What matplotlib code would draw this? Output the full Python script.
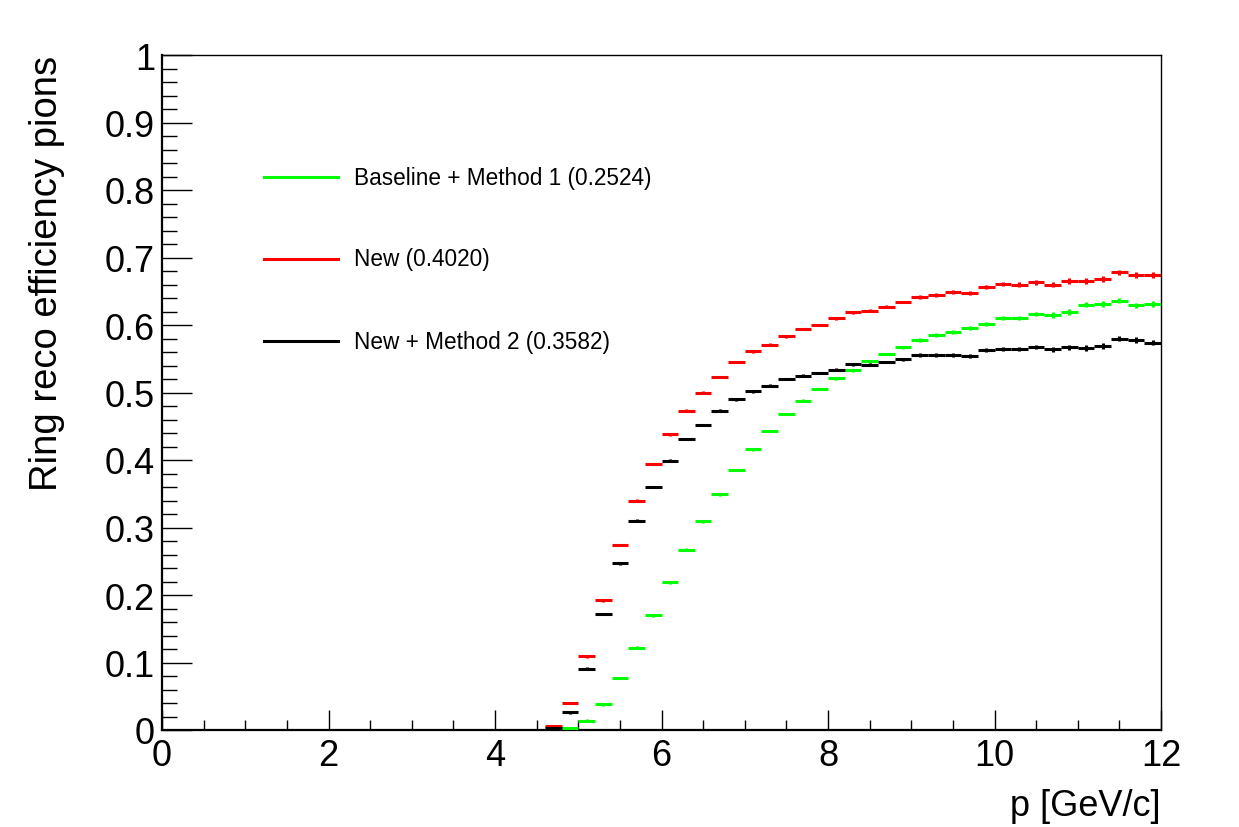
import numpy as np
import matplotlib
matplotlib.use("Agg")
import matplotlib.pyplot as plt
from matplotlib.ticker import MultipleLocator, FuncFormatter

plt.rcParams['font.family'] = ['Liberation Sans', 'DejaVu Sans']

# bin lower edges (GeV/c), bin width 0.2
bin_low = [4.6, 4.8, 5.0, 5.2, 5.4, 5.6, 5.8, 6.0, 6.2, 6.4, 6.6, 6.8, 7.0, 7.2, 7.4,
           7.6, 7.8, 8.0, 8.2, 8.4, 8.6, 8.8, 9.0, 9.2, 9.4, 9.6, 9.8, 10.0, 10.2,
           10.4, 10.6, 10.8, 11.0, 11.2, 11.4, 11.6, 11.8]
bin_width = 0.2

eff_baseline_m1 = [0.000, 0.003, 0.014, 0.038, 0.077, 0.122, 0.170, 0.219, 0.267, 0.309,
                   0.349, 0.385, 0.416, 0.443, 0.468, 0.488, 0.505, 0.521, 0.533, 0.546,
                   0.557, 0.567, 0.578, 0.585, 0.589, 0.595, 0.602, 0.610, 0.611, 0.617,
                   0.615, 0.619, 0.630, 0.631, 0.636, 0.629, 0.631]
eff_new = [0.006, 0.040, 0.109, 0.192, 0.274, 0.340, 0.394, 0.438, 0.473, 0.500,
           0.523, 0.545, 0.561, 0.571, 0.583, 0.594, 0.600, 0.610, 0.619, 0.621,
           0.627, 0.634, 0.642, 0.644, 0.649, 0.648, 0.657, 0.661, 0.660, 0.663,
           0.660, 0.665, 0.665, 0.668, 0.678, 0.674, 0.674]
eff_new_m2 = [0.003, 0.026, 0.091, 0.172, 0.247, 0.310, 0.360, 0.399, 0.431, 0.452,
              0.473, 0.490, 0.502, 0.510, 0.520, 0.525, 0.529, 0.534, 0.542, 0.541,
              0.545, 0.549, 0.555, 0.556, 0.556, 0.554, 0.563, 0.564, 0.564, 0.568,
              0.564, 0.567, 0.566, 0.569, 0.580, 0.578, 0.574]
eff_err = [0.002, 0.002, 0.002, 0.002, 0.002, 0.002, 0.002, 0.002, 0.002, 0.002,
           0.002, 0.002, 0.002, 0.002, 0.002, 0.002, 0.002, 0.002, 0.002, 0.002,
           0.002, 0.002, 0.003, 0.003, 0.003, 0.003, 0.003, 0.003, 0.003, 0.003,
           0.004, 0.004, 0.004, 0.004, 0.004, 0.004, 0.004]

labels = ["Baseline + Method 1 (0.2524)", "New (0.4020)", "New + Method 2 (0.3582)"]
colors = ["#00ff00", "#ff0000", "#000000"]
series = [eff_baseline_m1, eff_new, eff_new_m2]

fig = plt.figure(figsize=(12.39, 8.28), dpi=100)
ax = fig.add_axes([162/1239, 1-731/828, 999/1239, 675/828])

centers = np.array(bin_low) + bin_width/2
for vals, col in zip(series, colors):
    ax.errorbar(centers, vals, xerr=bin_width/2, yerr=eff_err, fmt='none',
                ecolor=col, elinewidth=2.2, capsize=0, zorder=3)

ax.set_xlim(0, 12)
ax.set_ylim(0, 1)

ax.xaxis.set_major_locator(MultipleLocator(2))
ax.xaxis.set_minor_locator(MultipleLocator(0.5))
ax.yaxis.set_major_locator(MultipleLocator(0.1))
ax.yaxis.set_minor_locator(MultipleLocator(0.02))

def yfmt(v, pos):
    s = f"{v:.1f}"
    if s == "0.0":
        return "0"
    if s == "1.0":
        return "1"
    return s
ax.yaxis.set_major_formatter(FuncFormatter(yfmt))

ax.tick_params(axis='both', which='both', direction='in', top=False, right=False,
               labelsize=26, width=1.0)
ax.tick_params(axis='x', which='major', length=14.4, pad=6)
ax.tick_params(axis='x', which='minor', length=7.2)
ax.tick_params(axis='y', which='major', length=21.6, pad=5)
ax.tick_params(axis='y', which='minor', length=10.8)

for s in ['left', 'bottom']:
    ax.spines[s].set_linewidth(1.6)
for s in ['top', 'right']:
    ax.spines[s].set_linewidth(1.0)

ax.set_xlabel("p [GeV/c]", fontsize=26, loc='right')
ax.xaxis.set_label_coords(1.0, -0.086)
ax.set_ylabel("Ring reco efficiency pions", fontsize=27.5, loc='top')
ax.yaxis.set_label_coords(-0.097, 1.0)

# legend (no frame), ROOT style
leg_y = [0.819, 0.698, 0.576]
for y, lab, col in zip(leg_y, labels, colors):
    ax.plot([0.102, 0.176], [y, y], transform=ax.transAxes, color=col, lw=2.2,
            clip_on=False)
    ax.text(0.192, y, lab, transform=ax.transAxes, fontsize=16.3, va='center',
            ha='left')

fig.savefig("out.png", dpi=100)
